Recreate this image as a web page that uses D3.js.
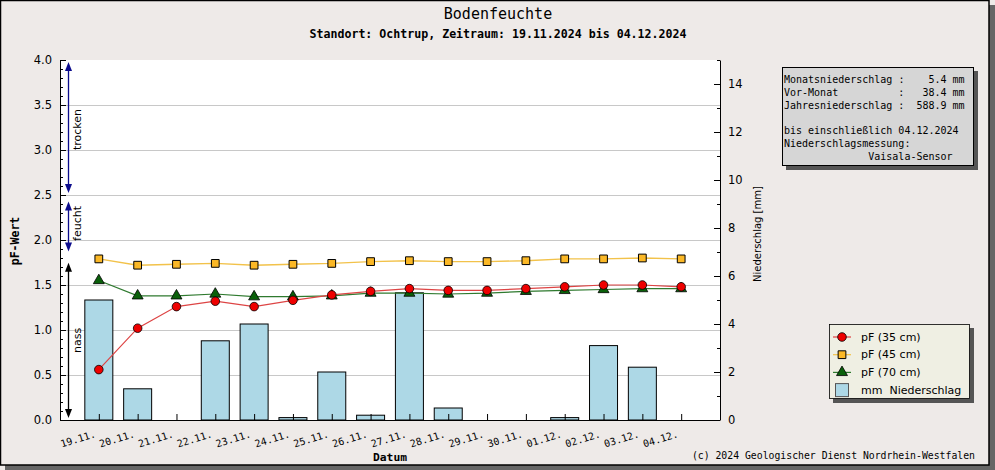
<!DOCTYPE html>
<html><head><meta charset="utf-8">
<script src="https://cdn.jsdelivr.net/npm/d3@7"></script>
<style>
html,body{margin:0;padding:0;background:#eeeae8;}
svg{display:block;-webkit-font-smoothing:antialiased;}
text{fill:#000;}
.mono{font-family:"DejaVu Sans Mono",monospace;}
.sans{font-family:"DejaVu Sans",sans-serif;}
</style></head>
<body>
<svg id="c" width="995" height="470"></svg>
<script>
const dates = ["19.11.","20.11.","21.11.","22.11.","23.11.","24.11.","25.11.","26.11.","27.11.","28.11.","29.11.","30.11.","01.12.","02.12.","03.12.","04.12."];
const pf35 = [0.56,1.02,1.26,1.32,1.26,1.33,1.39,1.43,1.46,1.44,1.44,1.46,1.48,1.50,1.50,1.48];
const pf45 = [1.79,1.72,1.73,1.74,1.72,1.73,1.74,1.76,1.77,1.76,1.76,1.77,1.79,1.79,1.80,1.79];
const pf70 = [1.55,1.38,1.38,1.40,1.37,1.37,1.38,1.41,1.41,1.40,1.41,1.43,1.44,1.45,1.46,1.46];
const rain = [5.0,1.3,0,3.3,4.0,0.1,2.0,0.2,5.3,0.5,0,0,0.1,3.1,2.2,0];
const leftTicks = [0,0.5,1,1.5,2,2.5,3,3.5,4];
const rightTicks = [0,2,4,6,8,10,12,14];
const zones = [
  {label:"trocken", from:4.0, to:2.5, color:"#0c0c8c"},
  {label:"feucht", from:2.45, to:1.85, color:"#0c0c8c"},
  {label:"nass", from:1.77, to:0.0, color:"#000000"}
];
const infoLines = ["Monatsniederschlag :    5.4 mm","Vor-Monat          :   38.4 mm","Jahresniederschlag :  588.9 mm","","bis einschließlich 04.12.2024","Niederschlagsmessung:","              Vaisala-Sensor"];
const legendItems = [
  {label:"pF (35 cm)", type:"circle"},
  {label:"pF (45 cm)", type:"square"},
  {label:"pF (70 cm)", type:"triangle"},
  {label:"mm  Niederschlag", type:"bar"}
];

const svg = d3.select("#c");
const L=60, R=720, T=60, B=420;
const x = d3.scaleLinear().domain([-1,16]).range([L,R]);
const yL = d3.scaleLinear().domain([0,4]).range([B,T]);
const yR = d3.scaleLinear().domain([0,15]).range([B,T]);

// frame + shadow
svg.append("rect").attr("x",5).attr("y",465).attr("width",990).attr("height",5).attr("fill","#666");
svg.append("rect").attr("x",989).attr("y",5).attr("width",6).attr("height",465).attr("fill","#666");
svg.append("rect").attr("x",0.5).attr("y",0.5).attr("width",988.5).attr("height",464.5).attr("fill","none").attr("stroke","#000").attr("stroke-width",1.5);

// titles
svg.append("text").attr("class","mono").attr("x",498).attr("y",19).attr("text-anchor","middle").attr("font-size",15).text("Bodenfeuchte");
svg.append("text").attr("class","mono").attr("x",498).attr("y",38).attr("text-anchor","middle").attr("font-size",11.6).attr("font-weight","bold").text("Standort: Ochtrup, Zeitraum: 19.11.2024 bis 04.12.2024");

// plot area
svg.append("rect").attr("x",L).attr("y",T).attr("width",R-L).attr("height",B-T).attr("fill","#fff");
// grid
svg.append("g").selectAll("line").data(leftTicks.filter(d=>d>0&&d<4)).join("line")
  .attr("x1",L).attr("x2",R).attr("y1",d=>yL(d)+0.5).attr("y2",d=>yL(d)+0.5)
  .attr("stroke","#c8c8c8").attr("stroke-width",1);

// bars
svg.append("g").selectAll("rect").data(rain.map((v,i)=>({v,i})).filter(d=>d.v>0)).join("rect")
  .attr("x",d=>x(d.i)-14).attr("width",28)
  .attr("y",d=>yR(d.v)).attr("height",d=>B-yR(d.v))
  .attr("fill","#add8e6").attr("stroke","#000").attr("stroke-width",1);

// axes
const styleAxis = g => { g.selectAll("path,line").attr("stroke","#000"); g.selectAll("text").attr("fill","#000"); };
const gl = svg.append("g").attr("transform",`translate(${L},0)`)
  .call(d3.axisLeft(yL).tickValues(leftTicks).tickSizeInner(-6).tickSizeOuter(0).tickPadding(8).tickFormat(d3.format(".1f")));
gl.selectAll("text").attr("class","sans").attr("font-size",11.5);
svg.append("g").attr("transform",`translate(${L},0)`)
  .call(d3.axisLeft(yL).tickValues(d3.range(0,41).map(d=>d/10)).tickSizeInner(-3).tickSizeOuter(0).tickFormat(""))
  .select(".domain").remove();
const gr = svg.append("g").attr("transform",`translate(${R},0)`)
  .call(d3.axisRight(yR).tickValues(rightTicks).tickSizeInner(-6).tickSizeOuter(0).tickPadding(8));
gr.selectAll("text").attr("class","sans").attr("font-size",11.5);
svg.append("g").attr("transform",`translate(${R},0)`)
  .call(d3.axisRight(yR).tickValues(d3.range(0,16)).tickSizeInner(-3).tickSizeOuter(0).tickFormat(""))
  .select(".domain").remove();
const gx = svg.append("g").attr("transform",`translate(0,${B})`)
  .call(d3.axisBottom(x).tickValues(d3.range(16)).tickSizeInner(-6).tickSizeOuter(0).tickFormat(i=>dates[i]));
gx.select(".domain").attr("d",`M${L},0.5H${R}`);
gx.selectAll("text").attr("class","mono").attr("font-size",10)
  .attr("text-anchor","end").attr("y",0).attr("dy",0)
  .attr("transform","translate(-3,17) rotate(-17)");
[gl,gr,gx].forEach(styleAxis);
svg.selectAll(".tick text").attr("fill","#000");

// zone arrows
const za = svg.append("g");
zones.forEach(z=>{
  const ax = 68.5;
  const y1 = yL(z.from)+2, y2 = yL(z.to)-2;
  za.append("line").attr("x1",ax).attr("x2",ax).attr("y1",y1+6).attr("y2",y2-6).attr("stroke",z.color).attr("stroke-width",1.3);
  za.append("path").attr("d",`M${ax},${y1} l-3.5,9 h7 z`).attr("fill",z.color);
  za.append("path").attr("d",`M${ax},${y2} l-3.5,-9 h7 z`).attr("fill",z.color);
  const cy = (yL(z.from)+yL(z.to))/2 + (z.label==="trocken"? 2 : z.label==="feucht"? -3 : 0);
  za.append("text").attr("class","sans").attr("font-size",11).attr("fill","#000")
    .attr("text-anchor","middle").attr("dominant-baseline","central")
    .attr("transform",`translate(77,${cy}) rotate(-90)`).text(z.label);
});

// lines
const line = arr => d3.line().x((d,i)=>x(i)).y(d=>yL(d))(arr);
svg.append("path").attr("d",line(pf45)).attr("fill","none").attr("stroke","#f2c24a").attr("stroke-width",1.4);
svg.append("path").attr("d",line(pf70)).attr("fill","none").attr("stroke","#2f7a2f").attr("stroke-width",1.2);
svg.append("path").attr("d",line(pf35)).attr("fill","none").attr("stroke","#dd4444").attr("stroke-width",1.2);

const sq = d3.symbol().type(d3.symbolSquare).size(60)();
const tri = d3.symbol().type(d3.symbolTriangle).size(52)();
svg.append("g").selectAll("path").data(pf45).join("path").attr("d",sq)
  .attr("transform",(d,i)=>`translate(${x(i)},${yL(d)})`).attr("fill","#fbb826").attr("stroke","#000").attr("stroke-width",1);
svg.append("g").selectAll("path").data(pf70).join("path").attr("d",tri)
  .attr("transform",(d,i)=>`translate(${x(i)},${yL(d)})`).attr("fill","#0a600a").attr("stroke","#000").attr("stroke-width",0.8);
svg.append("g").selectAll("circle").data(pf35).join("circle").attr("r",4.3)
  .attr("cx",(d,i)=>x(i)).attr("cy",d=>yL(d)).attr("fill","#ee0000").attr("stroke","#000").attr("stroke-width",0.8);

// axis titles
svg.append("text").attr("class","mono").attr("font-weight","bold").attr("font-size",11.5).attr("fill","#000")
  .attr("text-anchor","middle").attr("transform","translate(19,241) rotate(-90)").text("pF-Wert");
svg.append("text").attr("class","sans").attr("font-size",10).attr("fill","#000")
  .attr("text-anchor","middle").attr("transform","translate(761,234) rotate(-90)").text("Niederschlag [mm]");
svg.append("text").attr("class","mono").attr("font-weight","bold").attr("font-size",11.3).attr("fill","#000")
  .attr("text-anchor","middle").attr("x",390).attr("y",461).text("Datum");
svg.append("text").attr("class","mono").attr("font-size",9.8).attr("fill","#000")
  .attr("text-anchor","end").attr("x",975).attr("y",459).text("(c) 2024 Geologischer Dienst Nordrhein-Westfalen");

// info box
svg.append("rect").attr("x",786).attr("y",71).attr("width",192).attr("height",99).attr("fill","#555");
svg.append("rect").attr("x",782.5).attr("y",67.5).attr("width",191).attr("height",98).attr("fill","#d6d6d6").attr("stroke","#000");
svg.append("g").attr("transform","translate(784,0) rotate(0.01)").selectAll("text").data(infoLines).join("text").attr("class","mono").attr("font-size",10).attr("fill","#000")
  .attr("x",0).attr("y",(d,i)=>83+i*12.8).attr("xml:space","preserve").style("white-space","pre").text(d=>d);

// legend
svg.append("rect").attr("x",833).attr("y",328).attr("width",141).attr("height",75).attr("fill","#555");
svg.append("rect").attr("x",829.5).attr("y",324.5).attr("width",140).attr("height",74).attr("fill","#efefe3").attr("stroke","#000").attr("stroke-width",0.8);
const lg = svg.append("g");
legendItems.forEach((it,i)=>{
  const cy = 337 + i*17.7, cx = 842;
  if(it.type==="bar"){
    lg.append("rect").attr("x",cx-6.5).attr("y",cy-6.5).attr("width",13).attr("height",13).attr("fill","#add8e6").attr("stroke","#555");
  } else {
    const col = it.type==="circle"?"#dd4444":it.type==="square"?"#f2c24a":"#2f7a2f";
    lg.append("line").attr("x1",cx-9).attr("x2",cx+9).attr("y1",cy).attr("y2",cy).attr("stroke",col).attr("stroke-width",1.2);
    if(it.type==="circle") lg.append("circle").attr("cx",cx).attr("cy",cy).attr("r",4.3).attr("fill","#ee0000").attr("stroke","#000").attr("stroke-width",0.8);
    if(it.type==="square") lg.append("path").attr("d",sq).attr("transform",`translate(${cx},${cy})`).attr("fill","#fbb826").attr("stroke","#000");
    if(it.type==="triangle") lg.append("path").attr("d",tri).attr("transform",`translate(${cx},${cy})`).attr("fill","#0a600a").attr("stroke","#000").attr("stroke-width",0.8);
  }
  lg.append("text").attr("class","sans").attr("font-size",11).attr("fill","#000").attr("x",861).attr("y",cy).attr("dominant-baseline","central").attr("xml:space","preserve").style("white-space","pre").text(it.label);
});
</script>
</body></html>
